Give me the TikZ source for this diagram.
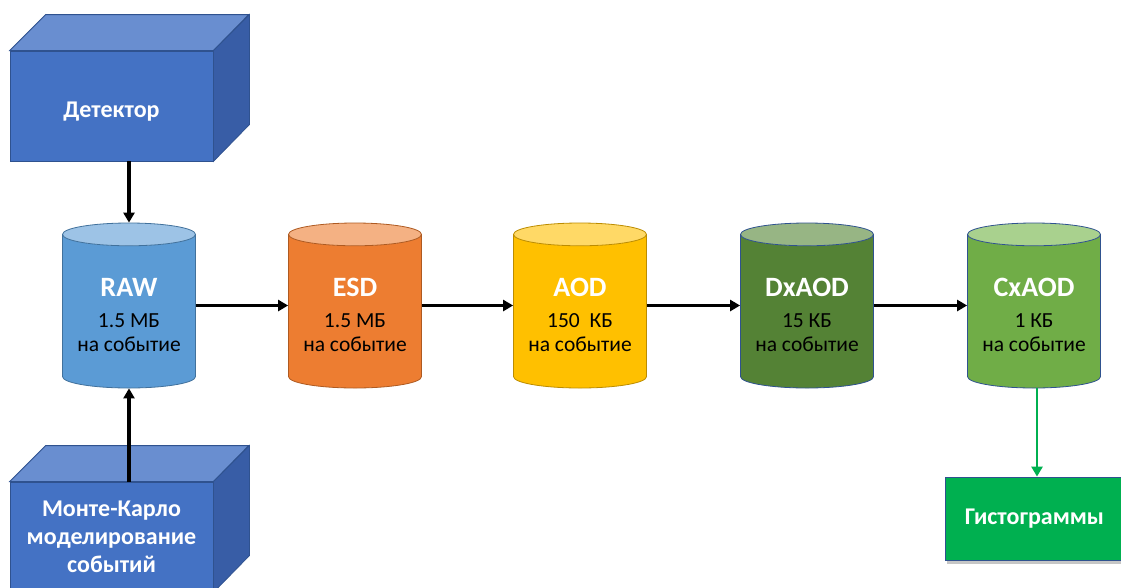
\documentclass[tikz,border=0pt]{standalone}
\usepackage{fontspec}
\setmainfont{Carlito}
\usetikzlibrary{shapes.geometric,arrows.meta,positioning,calc,shadows}

\definecolor{edgeblue}{HTML}{2F528F}
\definecolor{cubefront}{HTML}{4472C4}
\definecolor{cubetop}{HTML}{698ED0}
\definecolor{cubeside}{HTML}{385DA6}
\definecolor{rawbody}{HTML}{5B9BD5}
\definecolor{rawtop}{HTML}{9DC3E6}
\definecolor{rawedge}{HTML}{41719C}
\definecolor{esdbody}{HTML}{ED7D31}
\definecolor{esdtop}{HTML}{F4B183}
\definecolor{esdedge}{HTML}{AE5A21}
\definecolor{aodbody}{HTML}{FFC000}
\definecolor{aodtop}{HTML}{FFD966}
\definecolor{aodedge}{HTML}{BC8C00}
\definecolor{dxbody}{HTML}{548235}
\definecolor{dxtop}{HTML}{97B584}
\definecolor{cxbody}{HTML}{70AD47}
\definecolor{cxtop}{HTML}{A9D18E}
\definecolor{histgreen}{HTML}{00B050}

\newcommand{\dbtitle}[1]{{\color{white}\bfseries\fontsize{28}{31}\selectfont\rule{0pt}{26pt}#1}}

\begin{document}
\begin{tikzpicture}[x=1pt,y=-1pt,
    cube/.style={draw=edgeblue, fill=cubefront, line width=0.8pt, minimum width=203pt, minimum height=110pt,
        inner sep=0pt, align=center, text=white, font=\bfseries\fontsize{24}{28}\selectfont},
    db/.style n args={3}{cylinder, shape border rotate=90, aspect=0.22, minimum width=133pt, minimum height=165pt,
        anchor=shape center, draw=#3, line width=0.8pt, cylinder uses custom fill, cylinder body fill=#1,
        cylinder end fill=#2, inner sep=0pt, align=center, font=\fontsize{21.5}{24}\selectfont},
    flow/.style={-{Triangle[length=10pt,width=11pt]}, line width=3.5pt}]
    \useasboundingbox (0,0) rectangle (1121,587);
    \clip (0,0) rectangle (1121,587);

    % Sources
    \node[cube] (det) at (111.5,106) {\rule{0pt}{27pt}Детектор};
    \draw[edgeblue, fill=cubetop, line width=0.8pt] (det.north west) -- ++(36pt,36pt) -- ++(203pt,0pt) -- (det.north east) -- cycle;
    \draw[edgeblue, fill=cubeside, line width=0.8pt] (det.north east) -- ++(36pt,36pt) -- ++(0pt,-110pt) -- (det.south east) -- cycle;

    \node[cube] (mc) at (111.5,537) {Монте-Карло\\моделирование\\событий};
    \draw[edgeblue, fill=cubetop, line width=0.8pt] (mc.north west) -- ++(36pt,36pt) -- ++(203pt,0pt) -- (mc.north east) -- cycle;
    \draw[edgeblue, fill=cubeside, line width=0.8pt] (mc.north east) -- ++(36pt,36pt) -- ++(0pt,-110pt) -- (mc.south east) -- cycle;

    % Data formats
    \node[db={rawbody}{rawtop}{rawedge}] (raw) at (129,305.5) {\dbtitle{RAW}\\[7pt]1.5 МБ\\на событие};
    \node[db={esdbody}{esdtop}{esdedge}] (esd) at (355,305.5) {\dbtitle{ESD}\\[7pt]1.5 МБ\\на событие};
    \node[db={aodbody}{aodtop}{aodedge}] (aod) at (580,305.5) {\dbtitle{AOD}\\[7pt]150\ \ КБ\\на событие};
    \node[db={dxbody}{dxtop}{edgeblue}] (dxaod) at (807,305.5) {\dbtitle{DxAOD}\\[7pt]15 КБ\\на событие};
    \node[db={cxbody}{cxtop}{edgeblue}] (cxaod) at (1034,305.5) {\dbtitle{CxAOD}\\[7pt]1 КБ\\на событие};

    \node[draw=edgeblue, fill=histgreen, line width=0.8pt, minimum width=200pt, minimum height=83pt, text=white,
        font=\bfseries\fontsize{24}{28}\selectfont,
        drop shadow={shadow xshift=2pt, shadow yshift=-4pt, opacity=0.45}] (hist) at (1045,518.5) {\hspace*{-21pt}Гистограммы};

    % Arrows
    \draw[flow] (det.south -| raw.north) -- (raw.north);
    \draw[flow] (mc.north -| raw.south) -- (raw.south);
    \draw[flow] (raw.east |- raw.shape center) -- (esd.west |- raw.shape center);
    \draw[flow] (esd.east |- esd.shape center) -- (aod.west |- esd.shape center);
    \draw[flow] (aod.east |- aod.shape center) -- (dxaod.west |- aod.shape center);
    \draw[flow] (dxaod.east |- dxaod.shape center) -- (cxaod.west |- dxaod.shape center);
    \draw[flow, histgreen, line width=2.5pt] ([xshift=3pt]cxaod.south) -- ([xshift=3pt]cxaod.south |- hist.north);
\end{tikzpicture}
\end{document}
